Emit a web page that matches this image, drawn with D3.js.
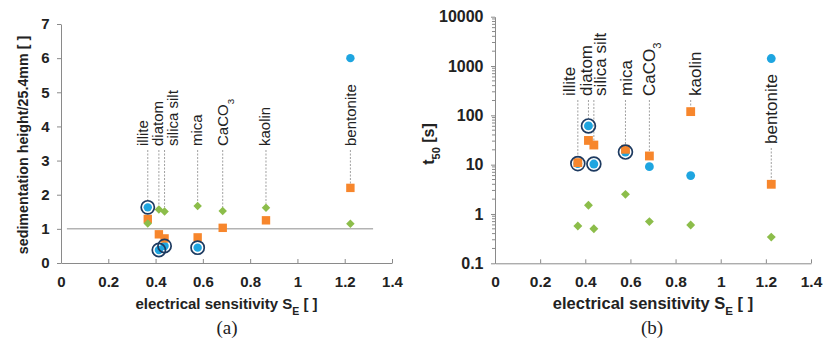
<!DOCTYPE html>
<html>
<head>
<meta charset="utf-8">
<script src="https://cdn.jsdelivr.net/npm/d3@7"></script>
<style>
  body { margin: 0; background: #fff; }
  svg { display: block; }
  .tick text { font-family: "Liberation Sans", Arial, sans-serif; font-weight: bold; fill: #222; }
  .domain, .tick line { stroke: #8a8a8a; }
</style>
</head>
<body>
<svg id="chart" width="828" height="341"></svg>
<script>
// materials and their electrical sensitivity
const materials = ["illite", "diatom", "silica silt", "mica", "CaCO3", "kaolin", "bentonite"];
const sensitivity = [0.367, 0.414, 0.438, 0.578, 0.684, 0.867, 1.224];

// panel (a): sedimentation height / 25.4mm
const heightBlue   = [1.63, 0.38, 0.50, 0.45, null, null, 6.0];
const heightOrange = [1.29, 0.84, 0.72, 0.75, 1.03, 1.25, 2.2];
const heightGreen  = [1.16, 1.57, 1.51, 1.67, 1.52, 1.62, 1.15];

// panel (b): t50 [s]
const t50Blue   = [10.5, 61, 10.3, 18, 9.1, 6.0, 1420];
const t50Orange = [11, 31, 25, 20.5, 15, 119, 4.0];
const t50Green  = [0.57, 1.5, 0.50, 2.5, 0.70, 0.60, 0.34];

// blue points that carry a ring
const ringed = ["illite", "diatom", "silica silt", "mica"];

const xTicks = [0, 0.2, 0.4, 0.6, 0.8, 1, 1.2, 1.4];
const heightTicks = [0, 1, 2, 3, 4, 5, 6, 7];
const t50Ticks = [0.1, 1, 10, 100, 1000, 10000];
const refLine = { y: 1, x0: 0.025, x1: 1.32 };

const colBlue = "#1ea5e0", colOrange = "#f7862c", colGreen = "#8cbd4a", colRing = "#1d3a60";

const svg = d3.select("#chart");

function drawPanel(cfg) {
  const g = svg.append("g");
  const x = cfg.x, y = cfg.y;

  // axes
  const xAxis = d3.axisBottom(x).tickValues(xTicks)
    .tickFormat(d => +d.toFixed(1))
    .tickSizeInner(-4).tickSizeOuter(0).tickPadding(13);
  g.append("g").attr("transform", `translate(0,${y.range()[0]})`).call(xAxis)
    .selectAll("text").style("font-size", cfg.xTickSize + "px");

  const yAxis = d3.axisLeft(y).tickValues(cfg.yTicks)
    .tickFormat(d => String(d))
    .tickSizeInner(4).tickSizeOuter(0).tickPadding(7.5);
  const ya = g.append("g").attr("transform", `translate(${x.range()[0]},0)`).call(yAxis);
  ya.selectAll("text").style("font-size", cfg.yTickSize + "px");

  if (cfg.log) {
    // minor ticks on the log axis
    const minors = [];
    cfg.yTicks.slice(0, -1).forEach(d => { for (let k = 2; k < 10; k++) minors.push(d * k); });
    ya.selectAll(".minor").data(minors).enter().append("line")
      .attr("class", "minor")
      .attr("x1", -3).attr("x2", 0)
      .attr("y1", d => y(d)).attr("y2", d => y(d))
      .attr("stroke", "#8a8a8a");
  }

  if (cfg.refLine) {
    g.append("line")
      .attr("x1", x(cfg.refLine.x0)).attr("x2", x(cfg.refLine.x1))
      .attr("y1", y(cfg.refLine.y)).attr("y2", y(cfg.refLine.y))
      .attr("stroke", "#b3b3b3").attr("stroke-width", 1.5);
  }

  // labels + dotted leaders
  materials.forEach((m, i) => {
    const bottom = cfg.labelBottom(m);
    const lx = x(sensitivity[i]) + cfg.nudge[i];
    const t = g.append("text")
      .attr("transform", `translate(${lx},${bottom}) rotate(-90)`)
      .attr("dy", "0.35em")
      .attr("text-anchor", "start")
      .style("font-family", "Liberation Sans, Arial, sans-serif")
      .style("font-size", cfg.labelSize + "px")
      .attr("fill", "#222");
    if (m === "CaCO3") {
      t.append("tspan").text("CaCO");
      t.append("tspan").text("3").attr("baseline-shift", "sub").style("font-size", (cfg.labelSize * 0.65) + "px");
    } else {
      t.text(m);
    }
    // leader to the highest marker below the label
    const vals = [cfg.blue[i], cfg.orange[i], cfg.green[i]].filter(v => v != null).map(v => y(v));
    const below = vals.filter(py => py > bottom);
    if (below.length) {
      const target = d3.min(below) - (ringed.includes(m) && d3.min(below) === y(cfg.blue[i]) ? 7 : 4);
      g.append("line")
        .attr("x1", x(sensitivity[i])).attr("x2", x(sensitivity[i]))
        .attr("y1", bottom + 4).attr("y2", target)
        .attr("stroke", "#a0a0a0").attr("stroke-width", 1)
        .attr("stroke-dasharray", "2,1.5");
    }
  });

  const pts = key => materials.map((m, i) => ({ m, sx: sensitivity[i], v: cfg[key][i] })).filter(d => d.v != null);

  g.selectAll(".blue").data(pts("blue")).enter().append("circle")
    .attr("cx", d => x(d.sx)).attr("cy", d => y(d.v))
    .attr("r", cfg.s * 4.2).attr("fill", colBlue);

  g.selectAll(".orange").data(pts("orange")).enter().append("rect")
    .attr("x", d => x(d.sx) - cfg.s * 4.2).attr("y", d => y(d.v) - cfg.s * 4.2)
    .attr("width", cfg.s * 8.4).attr("height", cfg.s * 8.4).attr("fill", colOrange);

  g.selectAll(".green").data(pts("green")).enter().append("path")
    .attr("d", d3.symbol(d3.symbolSquare, cfg.s * cfg.s * 36))
    .attr("transform", d => `translate(${x(d.sx)},${y(d.v)}) rotate(45)`)
    .attr("fill", colGreen);

  g.selectAll(".ring").data(pts("blue").filter(d => ringed.includes(d.m))).enter().append("circle")
    .attr("cx", d => x(d.sx)).attr("cy", d => y(d.v))
    .attr("r", cfg.s * 6.6).attr("fill", "none")
    .attr("stroke", colRing).attr("stroke-width", 1.7);

  // axis titles
  const xt = g.append("text")
    .attr("x", (x.range()[0] + x.range()[1]) / 2 + cfg.xTitleDx).attr("y", 309)
    .attr("text-anchor", "middle")
    .style("font-family", "Liberation Sans, Arial, sans-serif")
    .style("font-weight", "bold").style("font-size", cfg.xTitleSize + "px").attr("fill", "#222");
  xt.append("tspan").text("electrical sensitivity S");
  xt.append("tspan").text("E").attr("baseline-shift", "sub").style("font-size", (cfg.xTitleSize * 0.7) + "px");
  xt.append("tspan").text(" [ ]").attr("baseline-shift", "0");

  const yt = g.append("text")
    .attr("transform", `translate(${cfg.yTitleX},${cfg.yTitleY}) rotate(-90)`)
    .attr("text-anchor", "middle")
    .style("font-family", "Liberation Sans, Arial, sans-serif")
    .style("font-weight", "bold").style("font-size", cfg.yTitleSize + "px").attr("fill", "#222");
  cfg.yTitle(yt);

  g.append("text")
    .attr("x", cfg.tagX).attr("y", 334)
    .attr("text-anchor", "middle")
    .style("font-family", "Liberation Serif, Times New Roman, serif")
    .style("font-size", "19px").attr("fill", "#222")
    .text(cfg.tag);
}

drawPanel({
  x: d3.scaleLinear([0, 1.4], [61, 392]),
  y: d3.scaleLinear([0, 7], [263, 24]),
  yTicks: heightTicks,
  xTickSize: 15, yTickSize: 15,
  blue: heightBlue, orange: heightOrange, green: heightGreen,
  refLine: refLine,
  labelBottom: () => 146,
  nudge: [-5, -1, 8, -1, 0, -1, 0],
  labelSize: 15,
  s: 1,
  xTitleSize: 15, xTitleDx: 0,
  yTitleSize: 14.3, yTitleX: 28, yTitleY: 145,
  yTitle: t => t.text("sedimentation height/25.4mm [ ]"),
  tag: "(a)", tagX: 227
});

drawPanel({
  x: d3.scaleLinear([0, 1.4], [495, 811]),
  y: d3.scaleLog([0.1, 10000], [263.3, 16.7]),
  log: true,
  yTicks: t50Ticks,
  xTickSize: 15.5, yTickSize: 16,
  blue: t50Blue, orange: t50Orange, green: t50Green,
  labelBottom: m => m === "bentonite" ? 144 : 96,
  nudge: [-9, -2, 6, 1, 0, 4, 0],
  labelSize: 17,
  s: 1.05,
  xTitleSize: 16.5, xTitleDx: 0,
  yTitleSize: 16, yTitleX: 434, yTitleY: 144,
  yTitle: t => {
    t.append("tspan").text("t");
    t.append("tspan").text("50").attr("baseline-shift", "sub").style("font-size", "11px");
    t.append("tspan").text(" [s]").attr("baseline-shift", "0");
  },
  tag: "(b)", tagX: 652
});
</script>
</body>
</html>
